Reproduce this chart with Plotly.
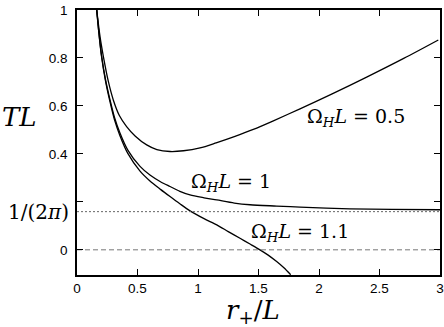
import math
import plotly.graph_objects as go

# Omega_H L = 0.5
r_05 = [0.163, 0.19, 0.218, 0.26, 0.30, 0.35, 0.41, 0.48, 0.576, 0.66, 0.769, 0.88,
        1.017, 1.15, 1.3, 1.457, 1.623, 1.843, 2.1, 2.394, 2.7, 2.986]
T_05 = [1.0, 0.89, 0.806, 0.70, 0.625, 0.56, 0.514, 0.475, 0.4375, 0.418, 0.410, 0.413,
        0.425, 0.446, 0.472, 0.502, 0.538, 0.588, 0.648, 0.720, 0.798, 0.875]

# Omega_H L = 1
r_10 = [0.163, 0.18, 0.204, 0.235, 0.273, 0.31, 0.355, 0.42, 0.521, 0.603, 0.69, 0.769,
        0.85, 0.934, 1.05, 1.155, 1.3, 1.43, 1.65, 1.843, 2.256, 2.6, 3.0]
T_10 = [1.0, 0.91, 0.806, 0.712, 0.625, 0.552, 0.487, 0.416, 0.348, 0.312, 0.284, 0.264,
        0.244, 0.229, 0.217, 0.208, 0.195, 0.188, 0.1825, 0.178, 0.171, 0.1685, 0.167]

# Omega_H L = 1.1
r_11 = [0.163, 0.18, 0.204, 0.235, 0.273, 0.31, 0.355, 0.42, 0.521, 0.603, 0.69, 0.769,
        0.85, 0.934, 1.05, 1.155, 1.25, 1.347, 1.43, 1.512, 1.58, 1.65, 1.71, 1.766]
T_11 = [1.0, 0.908, 0.802, 0.706, 0.617, 0.542, 0.476, 0.402, 0.328, 0.287, 0.252, 0.222,
        0.192, 0.1625, 0.13, 0.104, 0.076, 0.048, 0.024, 0.0, -0.022, -0.049, -0.075, -0.104]

series_labels = ["Ω<sub><i>H</i></sub><i>L</i> = 0.5",
                 "Ω<sub><i>H</i></sub><i>L</i> = 1",
                 "Ω<sub><i>H</i></sub><i>L</i> = 1.1"]

x_tickvals = [0, 0.5, 1, 1.5, 2, 2.5, 3]
x_ticktext = ["0", "0.5", "1", "1.5", "2", "2.5", "3"]
y_tickvals = [0, 0.2, 0.4, 0.6, 0.8, 1]
y_ticktext = ["0", "", "0.4", "0.6", "0.8", "1"]

zero_level = 0.0
inv_two_pi = 1 / (2 * math.pi)

SERIF = "DejaVu Serif, Liberation Serif, serif"
SANS = "Liberation Sans, Arial, sans-serif"

W, H = 444, 327
ML, MR, MT, MB = 77, 4, 10, 52

fig = go.Figure()
for r, T in [(r_05, T_05), (r_10, T_10), (r_11, T_11)]:
    fig.add_trace(go.Scatter(x=r, y=T, mode="lines",
                             line=dict(color="black", width=1.3, shape="spline", smoothing=0.8),
                             showlegend=False, hoverinfo="skip"))

fig.add_trace(go.Scatter(x=[0, 3], y=[zero_level, zero_level], mode="lines",
                         line=dict(color="#777777", width=1, dash="5px,3px"), showlegend=False,
                         hoverinfo="skip"))
fig.add_trace(go.Scatter(x=[0, 3], y=[inv_two_pi, inv_two_pi], mode="lines",
                         line=dict(color="#666666", width=1, dash="2px,2px"), showlegend=False,
                         hoverinfo="skip"))

axis_common = dict(showgrid=False, zeroline=False, showline=True, linecolor="black", linewidth=1.5,
                   mirror="ticks", ticks="inside", ticklen=6, tickwidth=1.2, tickcolor="black",
                   automargin=False, ticklabeloverflow="allow",
                   tickfont=dict(family=SANS, size=13.5, color="black"))

fig.update_xaxes(range=[0, 3], tickvals=x_tickvals, ticktext=x_ticktext, **axis_common)
fig.update_yaxes(range=[-0.105, 1], tickvals=y_tickvals, ticktext=y_ticktext,
                 ticklabelstandoff=5, **axis_common)


def px_to_paper(px, py):
    return (px - ML) / (W - ML - MR), 1 - (py - MT) / (H - MT - MB)


ann = []
for text, (px, py) in zip(series_labels, [(356, 117), (231, 182), (300, 232)]):
    x, y = px_to_paper(px, py)
    ann.append(dict(xref="paper", yref="paper", x=x, y=y, text=text, showarrow=False,
                    xanchor="center", yanchor="middle", font=dict(family=SERIF, size=19, color="black")))
x, _ = px_to_paper(71, 0)
ann.append(dict(xref="paper", yref="y", x=x, y=inv_two_pi, text="1/(2<i>π</i>)", showarrow=False,
                xanchor="right", yanchor="middle", font=dict(family=SERIF, size=20, color="black")))
x, y = px_to_paper(19, 117)
ann.append(dict(xref="paper", yref="paper", x=x, y=y, text="<i>TL</i>", showarrow=False,
                xanchor="center", yanchor="middle", font=dict(family=SERIF, size=26, color="black")))
x, y = px_to_paper(253, 311)
ann.append(dict(xref="paper", yref="paper", x=x, y=y, text="<i>r</i><sub>+</sub>/<i>L</i>",
                showarrow=False, xanchor="center", yanchor="middle",
                font=dict(family=SERIF, size=26, color="black")))

fig.update_layout(width=W, height=H, margin=dict(l=ML, r=MR, t=MT, b=MB, autoexpand=False),
                  plot_bgcolor="white", paper_bgcolor="white", annotations=ann)

fig.write_html("out.html", config={"displayModeBar": False},
               post_script="document.body.style.margin='0px';document.body.style.overflow='hidden';")
